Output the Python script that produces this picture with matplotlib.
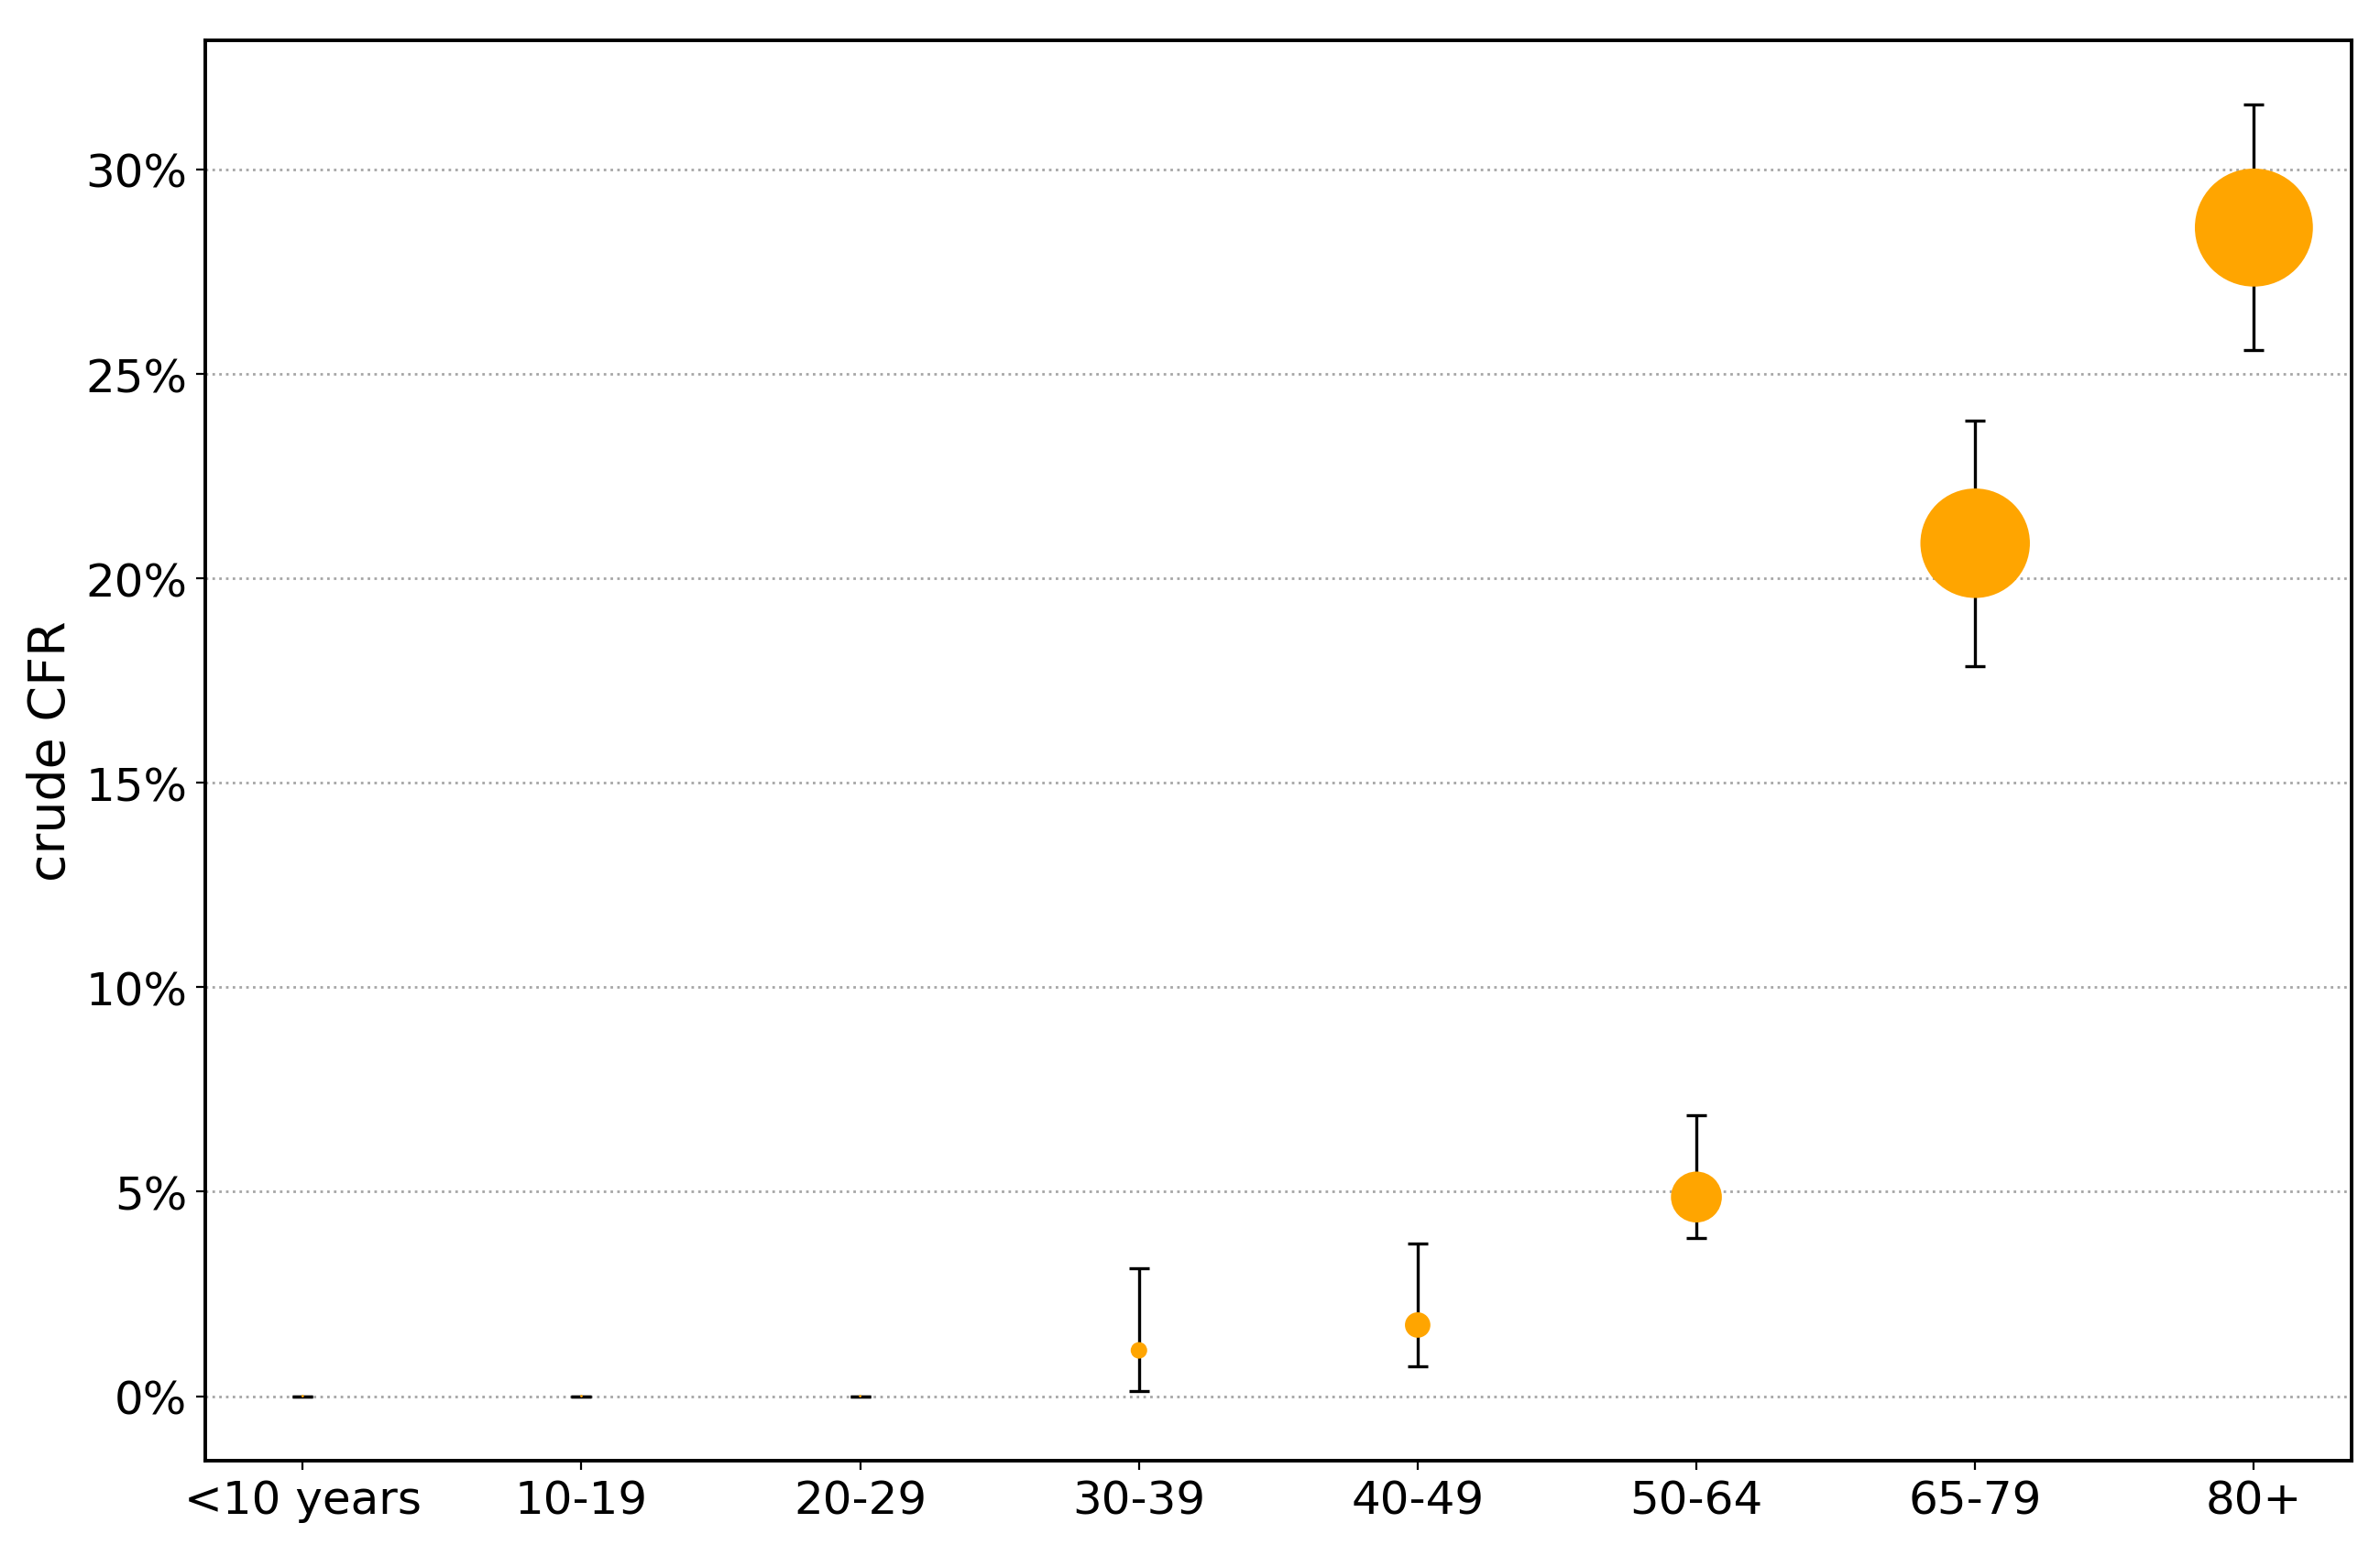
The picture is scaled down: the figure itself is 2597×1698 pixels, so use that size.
import numpy as np
import matplotlib
matplotlib.use('Agg')
import matplotlib.pyplot as plt
from matplotlib.ticker import FuncFormatter

# crude case fatality rate per age group (in %)
age_groups = ['<10 years', '10-19', '20-29', '30-39', '40-49', '50-64', '65-79', '80+']
cfr = [0.0, 0.0, 0.0, 1.12, 1.74, 4.87, 20.86, 28.58]
err_low = [0.0, 0.0, 0.0, 1.0, 1.0, 1.0, 3.0, 3.0]
err_high = [0.0, 0.0, 0.0, 2.0, 2.0, 2.0, 3.0, 3.0]
marker_size = [1, 1, 1, 42, 100, 400, 1850, 2150]

x = np.arange(len(age_groups))

fig = plt.figure(figsize=(12.985, 8.495), dpi=200)
ax = fig.add_axes([0.0862, 0.0612, 0.9018, 0.9123])

ax.errorbar(x, cfr, yerr=[err_low, err_high], fmt='none', ecolor='black',
            elinewidth=1.2, capsize=4, capthick=1.2, zorder=2)
ax.scatter(x, cfr, s=marker_size, color='orange', edgecolors='none', zorder=3)

ax.set_xticks(x)
ax.set_xticklabels(age_groups, fontsize=18)
ax.yaxis.set_major_formatter(FuncFormatter(lambda v, p: f'{v:.0f}%'))
ax.tick_params(axis='y', labelsize=18)
ax.set_ylabel('crude CFR', fontsize=20)
ax.yaxis.grid(True, linestyle=':', color='gray', alpha=0.7, linewidth=1)
ax.set_axisbelow(True)
for sp in ax.spines.values():
    sp.set_linewidth(1.4)

plt.savefig('out.png', dpi=200)
